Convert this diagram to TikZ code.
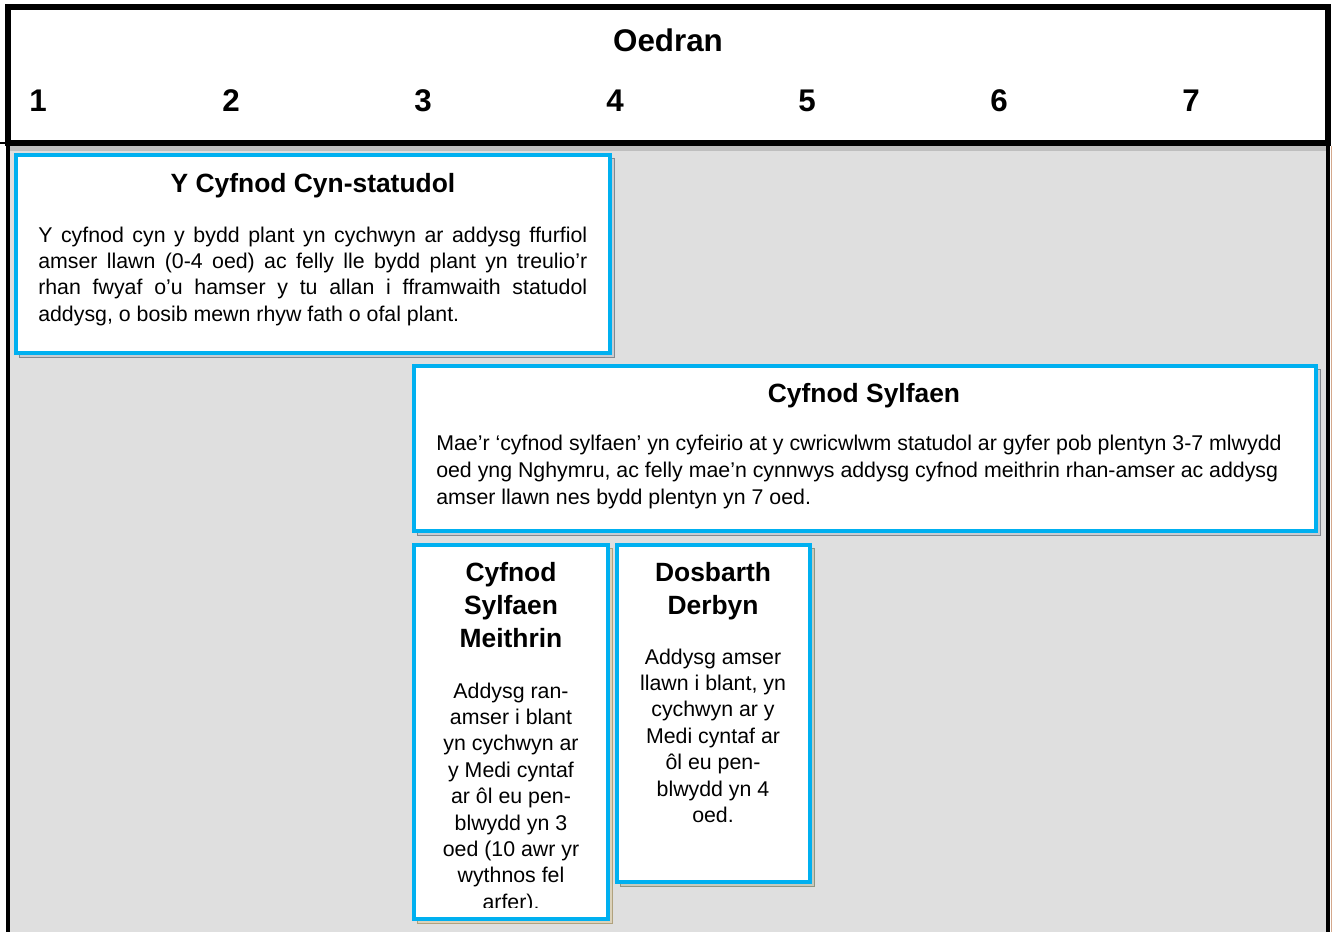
\documentclass[tikz,border=0pt]{standalone}
\usepackage{fontspec}
\setmainfont{Liberation Sans}
\usetikzlibrary{fit}
\definecolor{cyanb}{HTML}{00B0F0}
\definecolor{bodygrey}{HTML}{DFDFDF}
\definecolor{bandgrey}{HTML}{BEBEBE}
\definecolor{shgrey}{HTML}{A4AAB4}
\definecolor{shtan}{HTML}{C4B48C}
\definecolor{shgreen}{HTML}{A0A690}
\definecolor{edgetan}{HTML}{D4A88C}
\newcommand{\bodyfont}{\fontsize{16}{19.8}\selectfont}
\tikzset{
  card/.style={draw=cyanb, line width=3pt, fill=white, inner sep=0pt},
  cardshadow/.style={line width=0.75pt},
  cardtitle/.style={inner sep=0pt, anchor=base, font=\bfseries\fontsize{19.8}{24.75}\selectfont},
  cardtext/.style={inner sep=0pt},
  headtext/.style={inner sep=0pt, anchor=base, font=\bfseries\fontsize{23.5}{28}\selectfont},
}
\begin{document}
\begin{tikzpicture}[x=0.75pt,y=-0.75pt]
\useasboundingbox (0,0) rectangle (1333,932);
% body background and side rules
\fill[bodygrey] (8,143) rectangle (1328,932);
\fill[bandgrey] (10,146) rectangle (1326,151);
\draw[line width=3pt] (8,143) -- (8,932);
\draw[line width=3pt] (1328,143) -- (1328,932);
\draw[edgetan, line width=0.75pt] (1331.5,146) -- (1331.5,932);
% header
\node (hdr) [fit={(8,6.5) (1327.5,143)}, draw, line width=4.5pt, fill=white, inner sep=0pt] {};
\draw[line width=1.5pt] (0,143) -- (5,143);
\node (oedran) [headtext] at (668,51) {Oedran};
\node (a1) [headtext] at (38,111) {1};
\node (a2) [headtext] at (231,111) {2};
\node (a3) [headtext] at (423,111) {3};
\node (a4) [headtext] at (615,111) {4};
\node (a5) [headtext] at (807,111) {5};
\node (a6) [headtext] at (999,111) {6};
\node (a7) [headtext] at (1191,111) {7};
% shadows
\filldraw[cardshadow, fill=shgrey!60, draw=shgrey!80!black] (19,158) rectangle (614,357);
\filldraw[cardshadow, fill=shgrey!60, draw=shgrey!80!black] (417,369) rectangle (1320,535);
\filldraw[cardshadow, fill=shtan!60, draw=shtan!90!black] (417,548) rectangle (612,923);
\filldraw[cardshadow, fill=shgreen!60, draw=shgreen!90!black] (620,548) rectangle (814,886);
% cards
\node (c1) [card, fit={(16,155) (610,353)}] {};
\node (c2) [card, fit={(414,366) (1316,531)}] {};
\node (c3) [card, fit={(414,545) (608,919)}] {};
\node (c4) [card, fit={(617,545) (810,882)}] {};
% card 1
\node (c1t) [cardtitle] at (313,192) {Y Cyfnod Cyn-statudol};
\node (c1b) [cardtext, anchor=base west] at (38,242) {\parbox[t]{411.75pt}{\bodyfont\emergencystretch=2em
Y cyfnod cyn y bydd plant yn cychwyn ar addysg ffurfiol\linebreak
amser llawn (0-4 oed) ac felly lle bydd plant yn treulio’r\linebreak
rhan fwyaf o’u hamser y tu allan i fframwaith statudol\linebreak
addysg, o bosib mewn rhyw fath o ofal plant.}};
% card 2
\node (c2t) [cardtitle] at (864,402) {Cyfnod Sylfaen};
\node (c2b) [cardtext, anchor=base west] at (436,450) {\parbox[t]{660pt}{\raggedright\fontsize{16}{20.25}\selectfont
Mae’r ‘cyfnod sylfaen’ yn cyfeirio at y cwricwlwm statudol ar gyfer pob plentyn 3-7 mlwydd\\
oed yng Nghymru, ac felly mae’n cynnwys addysg cyfnod meithrin rhan-amser ac addysg\\
amser llawn nes bydd plentyn yn 7 oed.}};
% card 3
\node (c3t) [cardtitle] at (511,581.5) {\parbox[t]{135pt}{\centering\bfseries\fontsize{19.8}{24.75}\selectfont Cyfnod\\ Sylfaen\\ Meithrin}};
\begin{scope}
\clip (416,547) rectangle (606,907);
\node (c3b) [cardtext, anchor=base] at (511,698) {\parbox[t]{140pt}{\centering\bodyfont
Addysg ran-\\ amser i blant\\ yn cychwyn ar\\ y Medi cyntaf\\ ar ôl eu pen-\\ blwydd yn 3\\ oed (10 awr yr\\ wythnos fel\\ arfer).}};
\end{scope}
% card 4
\node (c4t) [cardtitle] at (713,581.5) {\parbox[t]{135pt}{\centering\bfseries\fontsize{19.8}{24.75}\selectfont Dosbarth\\ Derbyn}};
\node (c4b) [cardtext, anchor=base] at (713,664) {\parbox[t]{140pt}{\centering\bodyfont
Addysg amser\\ llawn i blant, yn\\ cychwyn ar y\\ Medi cyntaf ar\\ ôl eu pen-\\ blwydd yn 4\\ oed.}};
\end{tikzpicture}
\end{document}
